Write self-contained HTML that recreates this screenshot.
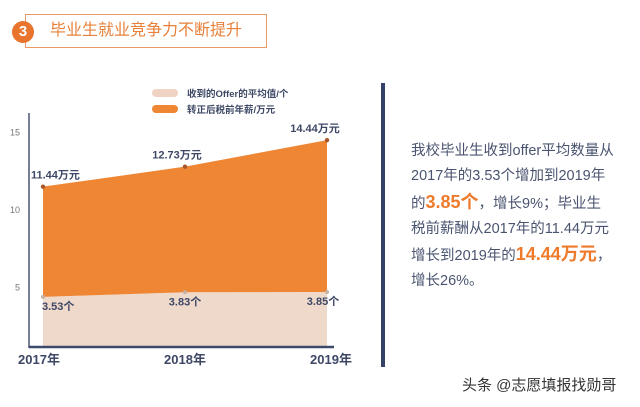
<!DOCTYPE html>
<html><head><meta charset="utf-8"><style>
body{margin:0;width:640px;height:407px;background:#fff;position:relative;overflow:hidden;font-family:"Liberation Sans","Noto Sans CJK SC",sans-serif}
.a{position:absolute}
</style></head><body>
<div class="a" style="left:25px;top:14px;width:240px;height:32px;border:1.5px solid #e89a66"></div>
<div class="a" style="left:12px;top:21px;width:22px;height:22px;border-radius:50%;background:#e8742e;color:#fff;font-weight:bold;font-size:15px;text-align:center;line-height:22px">3</div>
<div class="a" style="left:50px;top:18px;font-size:16px;color:#e8803a;line-height:26px">毕业生就业竞争力不断提升</div>

<svg class="a" style="left:0;top:0" width="380" height="407">
<g id="g"></g>
</svg>

<div class="a" style="left:381px;top:83px;width:4px;height:284px;background:#34426a"></div>
<div class="a" style="left:411px;top:139px;width:225px;font-size:14.5px;line-height:25.3px;color:#4a5470">我校毕业生收到offer平均数量从<br>2017年的3.53个增加到2019年<br>的<b style="color:#ee7a2c;font-size:18px">3.85个</b>，增长9%；毕业生<br>税前薪酬从2017年的11.44万元<br>增长到2019年的<b style="color:#ee7a2c;font-size:18px">14.44万元</b>，<br>增长26%。</div>
<div class="a" style="left:462px;top:374px;font-size:15px;color:#333">头条 @志愿填报找勋哥</div>

<script>
const years=["2017年","2018年","2019年"];
const salary=[11.44,12.73,14.44];
const offers=[3.53,3.83,3.85];
const yTicks=[5,10,15];
const legendLabels=["收到的Offer的平均值/个","转正后税前年薪/万元"];
const NS="http://www.w3.org/2000/svg";
const g=document.getElementById('g');
const x=i=>43+i*142;
const y=v=>209-(v-10)*15.5;
const yo=v=>352-v*15.6;
const base=347;
function mk(t,a,txt){const e=document.createElementNS(NS,t);for(const k in a)e.setAttribute(k,a[k]);if(txt!=null)e.textContent=txt;g.appendChild(e);return e;}
let p=`M${x(0)},${base}`;offers.forEach((v,i)=>p+=` L${x(i)},${yo(v)}`);p+=` L${x(offers.length-1)},${base}Z`;
let e=mk('path',{d:p,fill:'#efd9cb'});

p=`M${x(0)},${yo(offers[0])}`;salary.forEach((v,i)=>p+=` L${x(i)},${y(v)}`);
for(let i=offers.length-1;i>=0;i--)p+=` L${x(i)},${yo(offers[i])}`;p+='Z';
e=mk('path',{d:p,fill:'#ef8634'});

salary.forEach((v,i)=>{
 e=mk('circle',{cx:x(i),cy:y(v),r:2.2,fill:'#a8562a'});
 
 e=mk('text',{x:i==0?x(i)-12:x(i)+(i==2?-12:-8),y:y(v)-8,'font-size':11,'font-weight':'bold',fill:'#3e4866','text-anchor':i==0?'start':'middle'},v.toFixed(2)+'万元');
 
});
offers.forEach((v,i)=>{
 e=mk('circle',{cx:x(i),cy:yo(v),r:2,fill:'#c9b2a4'});
 
 e=mk('text',{x:i==0?x(i)-1:x(i)+(i==2?-4:0),y:yo(v)+13,'font-size':11,'font-weight':'bold',fill:'#3e4866','text-anchor':i==0?'start':'middle'},v.toFixed(2)+'个');
 
});
e=mk('line',{x1:29,y1:113,x2:29,y2:348,stroke:'#4a5575','stroke-width':1.5});

e=mk('line',{x1:29,y1:347,x2:334,y2:347,stroke:'#3d4a6b','stroke-width':2.5});

yTicks.forEach(t=>{
 e=mk('text',{x:20,y:y(t)+4,'font-size':9,fill:'#777','text-anchor':'end'},t);
 
});
years.forEach((yr,i)=>{
 e=mk('text',{x:x(i)+(i==0?-4:i==2?4:0),y:364,'font-size':13,'font-weight':'bold',fill:'#3e4866','text-anchor':'middle'},yr);
 
});
const lc=['#efd3c3','#ef8634'];
legendLabels.forEach((l,i)=>{
 e=mk('rect',{x:152,y:89+i*16,width:26,height:8,rx:4,fill:lc[i]});
 
 e=mk('text',{x:187,y:97+i*16,'font-size':9.5,'font-weight':'bold',fill:'#3e4866'},l);
 
});
</script>
</body></html>
